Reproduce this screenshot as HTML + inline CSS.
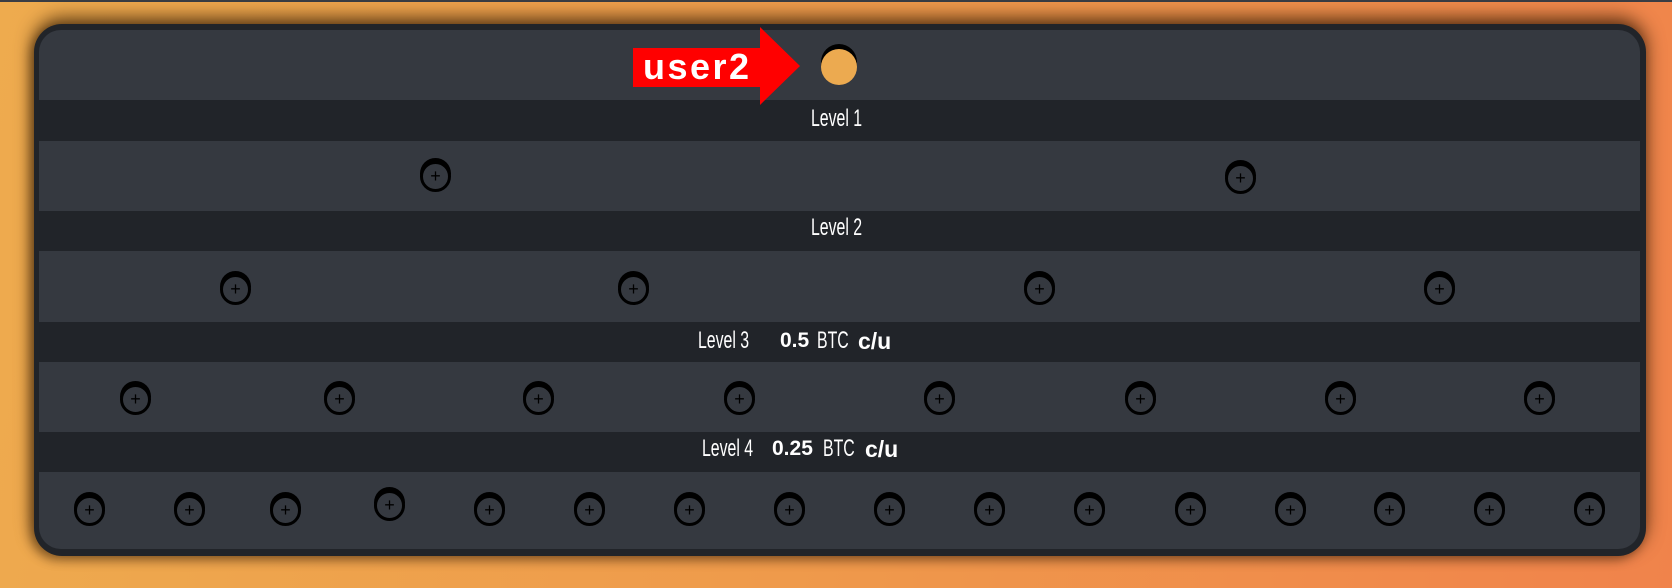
<!DOCTYPE html>
<html><head><meta charset="utf-8"><style>
body{margin:0;width:1672px;height:588px;overflow:hidden;position:relative;background:linear-gradient(100deg,#eeab4e 0%,#ef9a4b 50%,#f0834b 100%);font-family:"Liberation Sans",sans-serif}
.top{position:absolute;left:0;top:0;width:1672px;height:2px;background:#3a3d44}
.panel{position:absolute;left:34px;top:24px;width:1612px;height:532px;background:#212429;border-radius:28px;box-shadow:0 -6px 18px rgba(40,20,0,.75),-4px 4px 10px rgba(40,20,0,.4)}
.row{position:absolute;left:39px;width:1601px;background:#353940}
.c{position:absolute;width:25px;height:25px;border:3px solid #000;border-radius:50%;background:#353940;box-shadow:0 -3px 0 #000;margin:-15px 0 0 -15px;text-align:center;line-height:25px;font-size:18px;color:#000}
.t{position:absolute;color:#fff;font-size:24px;line-height:28px;transform-origin:0 50%;white-space:nowrap}
.n{transform:scaleX(.66)}
</style></head><body>
<div class="top"></div>
<div class="panel"></div>
<div class="row" style="top:30px;height:70px;border-radius:22px 22px 0 0"></div>
<div class="row" style="top:141px;height:70px"></div>
<div class="row" style="top:251px;height:71px"></div>
<div class="row" style="top:362px;height:70px"></div>
<div class="row" style="top:472px;height:77px;border-radius:0 0 22px 22px"></div>

<div style="position:absolute;left:633px;top:48px;width:128px;height:39px;background:#f00"></div>
<div style="position:absolute;left:760px;top:27px;width:0;height:0;border-top:39px solid transparent;border-bottom:39px solid transparent;border-left:40px solid #f00"></div>
<div style="position:absolute;left:643px;top:47px;color:#fff;font-weight:bold;font-size:36px;letter-spacing:2.5px;line-height:40px">user2</div>
<div style="position:absolute;left:821px;top:49px;width:36px;height:36px;border-radius:50%;background:#ecaa50;box-shadow:0 -5px 0 #000"></div>

<div class="t n" style="left:811px;top:105px">Level 1</div>
<div class="t n" style="left:811px;top:214px">Level 2</div>
<div class="t n" style="left:698px;top:327px">Level 3</div>
<div class="t" style="left:780px;top:327px;font-weight:bold;font-size:21px">0.5</div>
<div class="t n" style="left:817px;top:327px">BTC</div>
<div class="t" style="left:858px;top:327px;font-weight:bold;font-size:23px">c/u</div>
<div class="t n" style="left:702px;top:435px">Level 4</div>
<div class="t" style="left:772px;top:435px;font-weight:bold;font-size:21px">0.25</div>
<div class="t n" style="left:823px;top:435px">BTC</div>
<div class="t" style="left:865px;top:435px;font-weight:bold;font-size:23px">c/u</div>

<div class="c" style="left:435px;top:176px">+</div>
<div class="c" style="left:1240px;top:178px">+</div>

<div class="c" style="left:235px;top:289px">+</div>
<div class="c" style="left:633px;top:289px">+</div>
<div class="c" style="left:1039px;top:289px">+</div>
<div class="c" style="left:1439px;top:289px">+</div>

<div class="c" style="left:135px;top:399px">+</div>
<div class="c" style="left:339px;top:399px">+</div>
<div class="c" style="left:538px;top:399px">+</div>
<div class="c" style="left:739px;top:399px">+</div>
<div class="c" style="left:939px;top:399px">+</div>
<div class="c" style="left:1140px;top:399px">+</div>
<div class="c" style="left:1340px;top:399px">+</div>
<div class="c" style="left:1539px;top:399px">+</div>

<div class="c" style="left:89px;top:510px">+</div>
<div class="c" style="left:189px;top:510px">+</div>
<div class="c" style="left:285px;top:510px">+</div>
<div class="c" style="left:389px;top:505px">+</div>
<div class="c" style="left:489px;top:510px">+</div>
<div class="c" style="left:589px;top:510px">+</div>
<div class="c" style="left:689px;top:510px">+</div>
<div class="c" style="left:789px;top:510px">+</div>
<div class="c" style="left:889px;top:510px">+</div>
<div class="c" style="left:989px;top:510px">+</div>
<div class="c" style="left:1089px;top:510px">+</div>
<div class="c" style="left:1190px;top:510px">+</div>
<div class="c" style="left:1290px;top:510px">+</div>
<div class="c" style="left:1389px;top:510px">+</div>
<div class="c" style="left:1489px;top:510px">+</div>
<div class="c" style="left:1589px;top:510px">+</div>
</body></html>
